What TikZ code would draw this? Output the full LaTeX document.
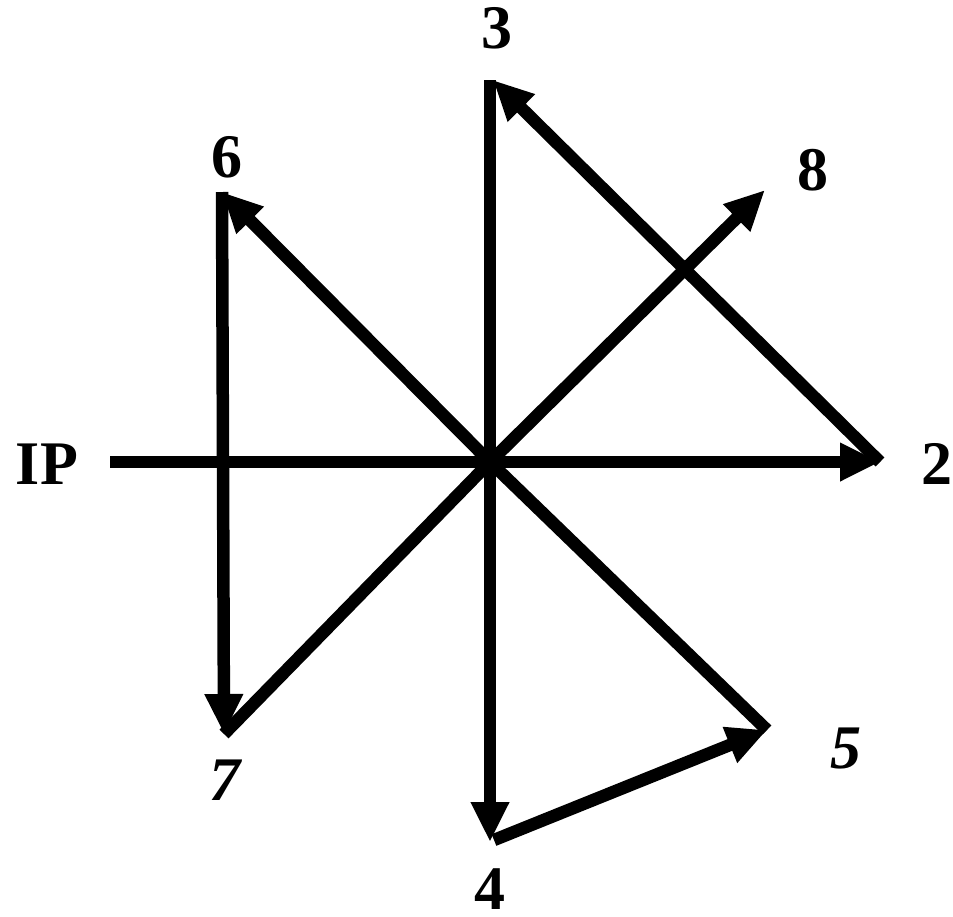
\documentclass[tikz,border=0pt]{standalone}
\usepackage{fontspec}
\setmainfont{Liberation Serif}
\usetikzlibrary{arrows.meta}
\begin{document}
\begin{tikzpicture}[x=1pt,y=-1pt,
  lbl/.style={inner sep=0pt,font=\fontsize{62}{70}\selectfont\bfseries},
  lbli/.style={lbl,font=\fontsize{62}{70}\selectfont\bfseries\itshape},
  edge/.style={line width=12.5pt,line cap=butt,line join=miter},
  arr/.style={edge,-{Triangle[length=40pt,width=36pt]}}]
\useasboundingbox (0,0) rectangle (953,916);
\coordinate (ip) at (110,462);
\coordinate (c) at (490,462);
\coordinate (p2) at (880,462);
\coordinate (p3) at (493,80);
\coordinate (p3s) at (490,80);
\coordinate (p4) at (490,842);
\coordinate (p4s) at (494,840);
\coordinate (p5) at (767,730);
\coordinate (p6) at (222,192);
\coordinate (p6s) at (222,192);
\coordinate (p7) at (224,734);
\coordinate (p8) at (765,190);
\node[lbl] (tIP) at (47,464) {IP};
\node[lbl] (t2) at (937,464) {2};
\node[lbl] (t3) at (497,28) {3};
\node[lbl] (t4) at (490,889) {4};
\node[lbli] (t5) at (846,748) {5};
\node[lbl] (t6) at (227,157) {6};
\node[lbli] (t7) at (225,780) {7};
\node[lbl] (t8) at (813,170) {8};
\draw[arr] (ip) -- (p2);
\draw[arr] (p2) -- (p3);
\draw[arr] (p3s) -- (p4);
\draw[arr] (p4s) -- (p5);
\draw[edge] (p5) -- (c);
\draw[arr] (c) -- (p6);
\draw[arr] (p6s) -- (p7);
\draw[edge] (p7) -- (c);
\draw[arr] (c) -- (p8);
\end{tikzpicture}
\end{document}
